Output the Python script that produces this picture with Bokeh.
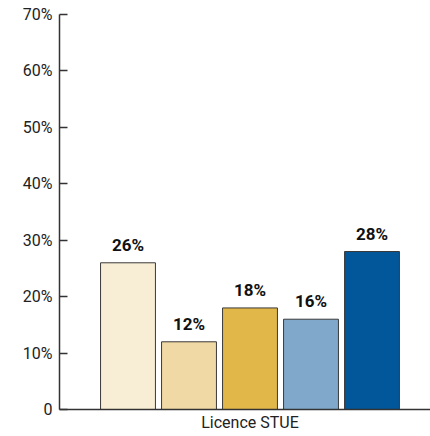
from bokeh.plotting import figure
from bokeh.models import Range1d, FixedTicker, ColumnDataSource, LabelSet, CustomJSTickFormatter
from bokeh.core.properties import value
from bokeh.embed import file_html
from bokeh.resources import INLINE

category = "Licence STUE"
positions = [1, 2, 3, 4, 5]
values = [26, 12, 18, 16, 28]
labels = ["26%", "12%", "18%", "16%", "28%"]
colors = ["#F8EDD5", "#F0D9A4", "#E2B74A", "#7FA8CB", "#02569A"]
y_ticks = [0, 10, 20, 30, 40, 50, 60, 70]

FONT = "Roboto"

p = figure(frame_width=371, frame_height=395, output_backend="svg", toolbar_location=None,
           x_range=Range1d(-0.123, 5.959), y_range=Range1d(0, 70),
           min_border_left=59, min_border_right=0, min_border_top=14, min_border_bottom=20)
p.outline_line_color = None
p.grid.grid_line_color = None
p.background_fill_color = "white"

src = ColumnDataSource(dict(x=positions, top=values, label=labels, color=colors))
p.vbar(x="x", top="top", width=0.9, bottom=0, source=src, fill_color="color",
       line_color="#3a3a3a", line_width=1)

ls = LabelSet(x="x", y="top", text="label", source=src, text_align="center",
              text_baseline="alphabetic", y_offset=12, text_font=value(FONT),
              text_font_style="bold", text_font_size="17px", text_color="#111111")
p.add_layout(ls)

p.yaxis.ticker = FixedTicker(ticks=y_ticks)
p.yaxis.formatter = CustomJSTickFormatter(code="return tick == 0 ? '0' : tick + '%';")
p.yaxis.major_tick_in = 8
p.yaxis.major_tick_out = 0
p.yaxis.minor_tick_line_color = None
p.yaxis.major_label_standoff = 7
p.yaxis.axis_line_color = "#333333"
p.yaxis.axis_line_width = 1.5
p.yaxis.major_tick_line_color = "#333333"
p.yaxis.major_tick_line_width = 1.5
p.yaxis.major_label_text_font = FONT
p.yaxis.major_label_text_font_size = "16px"
p.yaxis.major_label_text_color = "#222222"

p.xaxis.ticker = FixedTicker(ticks=[3])
p.xaxis.major_label_overrides = {3: category}
p.xaxis.major_tick_line_color = None
p.xaxis.minor_tick_line_color = None
p.xaxis.major_tick_out = 0
p.xaxis.major_label_standoff = 3
p.xaxis.axis_line_color = "#333333"
p.xaxis.axis_line_width = 1.5
p.xaxis.major_label_text_font = FONT
p.xaxis.major_label_text_font_size = "16px"
p.xaxis.major_label_text_color = "#222222"

open("out.html", "w").write(file_html(p, INLINE))
